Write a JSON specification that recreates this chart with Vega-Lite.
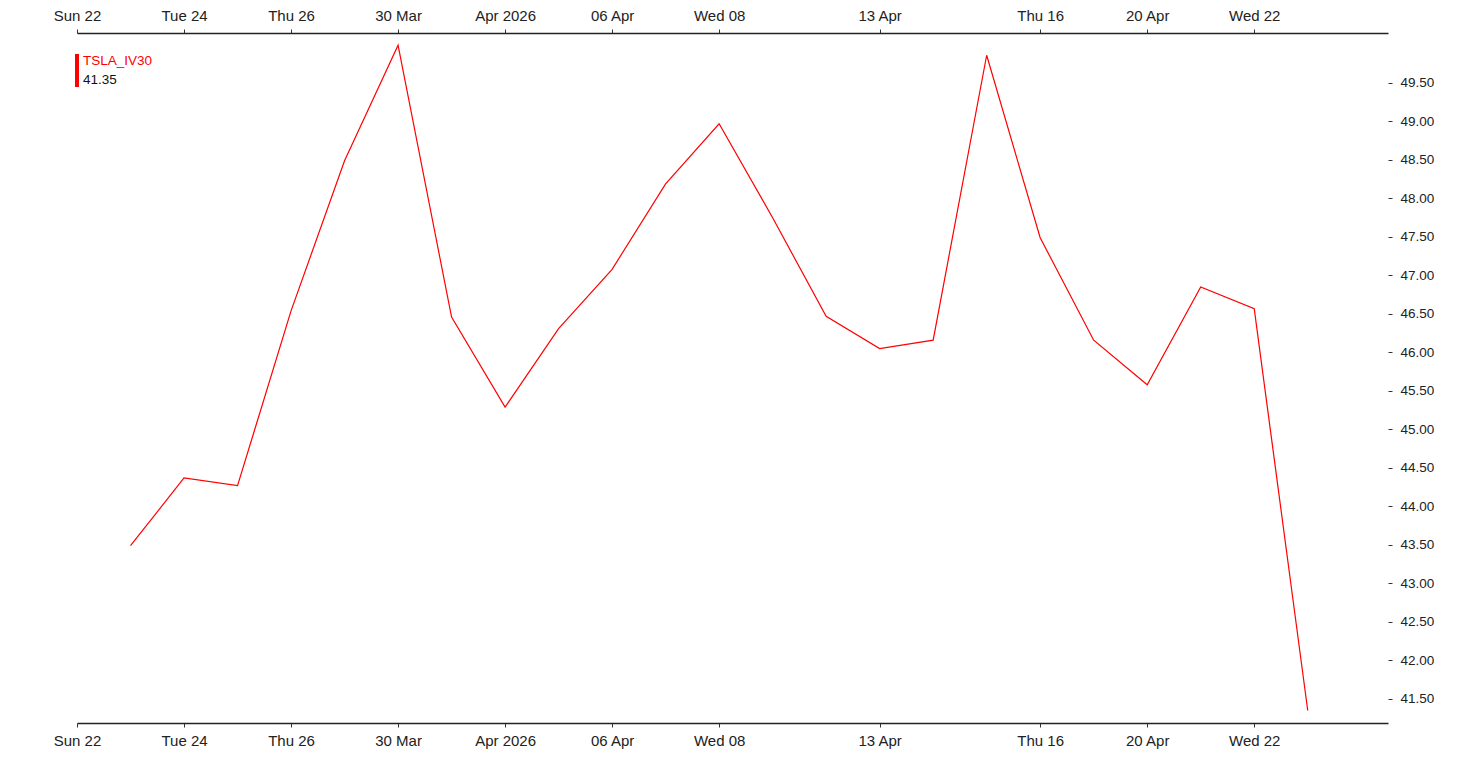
{
  "$schema": "https://vega.github.io/schema/vega-lite/v6.json",
  "width": 1311,
  "height": 690,
  "autosize": {"type": "none"},
  "padding": {"left": 77, "top": 33, "right": 69, "bottom": 35},
  "background": "white",
  "config": {
    "view": {"stroke": null},
    "font": "Liberation Sans",
    "axis": {"grid": false, "title": null, "labelFont": "Liberation Sans", "labelColor": "#222222", "tickColor": "#333333", "domainColor": "#222222"}
  },
  "data": {
    "values": [
      {"date": "2026-03-23", "iv": 43.49},
      {"date": "2026-03-24", "iv": 44.37},
      {"date": "2026-03-25", "iv": 44.27},
      {"date": "2026-03-26", "iv": 46.54},
      {"date": "2026-03-27", "iv": 48.49},
      {"date": "2026-03-30", "iv": 49.99},
      {"date": "2026-03-31", "iv": 46.46},
      {"date": "2026-04-01", "iv": 45.29},
      {"date": "2026-04-02", "iv": 46.31},
      {"date": "2026-04-06", "iv": 47.08},
      {"date": "2026-04-07", "iv": 48.19},
      {"date": "2026-04-08", "iv": 48.97},
      {"date": "2026-04-09", "iv": 47.75},
      {"date": "2026-04-10", "iv": 46.47},
      {"date": "2026-04-13", "iv": 46.05},
      {"date": "2026-04-14", "iv": 46.16},
      {"date": "2026-04-15", "iv": 49.86},
      {"date": "2026-04-16", "iv": 47.49},
      {"date": "2026-04-17", "iv": 46.16},
      {"date": "2026-04-20", "iv": 45.58},
      {"date": "2026-04-21", "iv": 46.85},
      {"date": "2026-04-22", "iv": 46.57},
      {"date": "2026-04-23", "iv": 41.35}
    ]
  },
  "layer": [
    {
      "mark": {"type": "line", "color": "#ff0000", "strokeWidth": 1.2},
      "encoding": {
        "x": {
          "field": "date", "type": "ordinal",
          "scale": {"type": "point", "domain": ["2026-03-22","2026-03-23","2026-03-24","2026-03-25","2026-03-26","2026-03-27","2026-03-30","2026-03-31","2026-04-01","2026-04-02","2026-04-06","2026-04-07","2026-04-08","2026-04-09","2026-04-10","2026-04-13","2026-04-14","2026-04-15","2026-04-16","2026-04-17","2026-04-20","2026-04-21","2026-04-22","2026-04-23"], "padding": 0.75, "align": 0, "round": false},
          "axis": {
            "orient": "bottom",
            "values": ["2026-03-22","2026-03-24","2026-03-26","2026-03-30","2026-04-01","2026-04-06","2026-04-08","2026-04-13","2026-04-16","2026-04-20","2026-04-22"],
            "labelExpr": "['Sun 22','Tue 24','Thu 26','30 Mar','Apr 2026','06 Apr','Wed 08','13 Apr','Thu 16','20 Apr','Wed 22'][indexof(['2026-03-22','2026-03-24','2026-03-26','2026-03-30','2026-04-01','2026-04-06','2026-04-08','2026-04-13','2026-04-16','2026-04-20','2026-04-22'], datum.value)]",
            "labelAngle": 0, "labelFontSize": 15, "labelPadding": 6, "tickSize": 4, "domainWidth": 1.5, "labelOverlap": false
          }
        },
        "y": {
          "field": "iv", "type": "quantitative",
          "scale": {"domain": [41.188, 50.149], "nice": false, "zero": false},
          "axis": {
            "orient": "right",
            "values": [41.5, 42, 42.5, 43, 43.5, 44, 44.5, 45, 45.5, 46, 46.5, 47, 47.5, 48, 48.5, 49, 49.5],
            "format": ".2f", "domain": false, "tickSize": 4, "labelPadding": 8, "labelFontSize": 13.5
          }
        }
      }
    },
    {
      "mark": {"type": "line", "opacity": 0},
      "encoding": {
        "x": {
          "field": "date", "type": "ordinal",
          "scale": {"type": "point", "domain": ["2026-03-22","2026-03-23","2026-03-24","2026-03-25","2026-03-26","2026-03-27","2026-03-30","2026-03-31","2026-04-01","2026-04-02","2026-04-06","2026-04-07","2026-04-08","2026-04-09","2026-04-10","2026-04-13","2026-04-14","2026-04-15","2026-04-16","2026-04-17","2026-04-20","2026-04-21","2026-04-22","2026-04-23"], "padding": 0.75, "align": 0, "round": false},
          "axis": {
            "orient": "top",
            "values": ["2026-03-22","2026-03-24","2026-03-26","2026-03-30","2026-04-01","2026-04-06","2026-04-08","2026-04-13","2026-04-16","2026-04-20","2026-04-22"],
            "labelExpr": "['Sun 22','Tue 24','Thu 26','30 Mar','Apr 2026','06 Apr','Wed 08','13 Apr','Thu 16','20 Apr','Wed 22'][indexof(['2026-03-22','2026-03-24','2026-03-26','2026-03-30','2026-04-01','2026-04-06','2026-04-08','2026-04-13','2026-04-16','2026-04-20','2026-04-22'], datum.value)]",
            "labelAngle": 0, "labelFontSize": 15, "labelPadding": 6, "tickSize": 4, "domainWidth": 1.5, "labelOverlap": false
          }
        },
        "y": {
          "field": "iv", "type": "quantitative",
          "scale": {"domain": [41.188, 50.149], "nice": false, "zero": false},
          "axis": null
        }
      }
    },
    {
      "transform": [{"filter": "datum.date == '2026-04-23'"}],
      "mark": {"type": "rule", "color": "#ff0000", "strokeWidth": 4},
      "encoding": {
        "x": {"datum": "2026-03-22", "type": "ordinal", "axis": null},
        "y": {"datum": 49.877, "type": "quantitative", "axis": null},
        "y2": {"datum": 49.448}
      }
    },
    {
      "transform": [{"filter": "datum.date == '2026-04-23'"}],
      "mark": {"type": "text", "color": "#ff0000", "align": "left", "baseline": "middle", "dx": 6, "fontSize": 13.5, "font": "Liberation Sans"},
      "encoding": {
        "x": {"datum": "2026-03-22", "type": "ordinal", "axis": null},
        "y": {"datum": 49.786, "type": "quantitative", "axis": null},
        "text": {"value": "TSLA_IV30"}
      }
    },
    {
      "transform": [{"filter": "datum.date == '2026-04-23'"}],
      "mark": {"type": "text", "color": "#111111", "align": "left", "baseline": "middle", "dx": 6, "fontSize": 13.5, "font": "Liberation Sans"},
      "encoding": {
        "x": {"datum": "2026-03-22", "type": "ordinal", "axis": null},
        "y": {"datum": 49.539, "type": "quantitative", "axis": null},
        "text": {"field": "iv", "type": "quantitative", "format": ".2f"}
      }
    }
  ],
  "resolve": {"axis": {"x": "independent", "y": "independent"}}
}
